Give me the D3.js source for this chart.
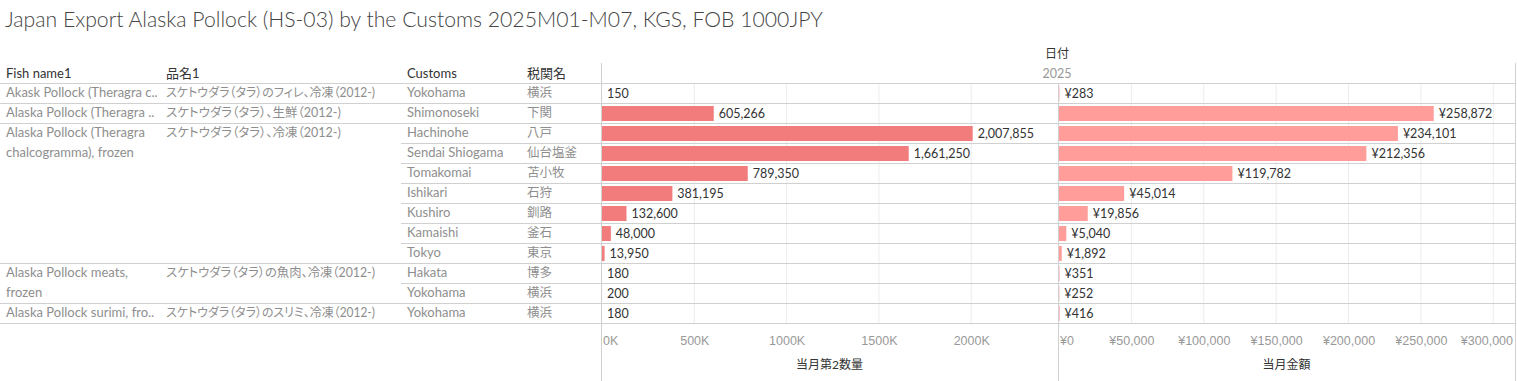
<!DOCTYPE html>
<html><head><meta charset="utf-8">
<script src="https://cdn.jsdelivr.net/npm/d3@7"></script>
<style>
body{margin:0;background:#fff;}
svg{font-family:Lato,"Noto Sans CJK JP","Noto Sans",sans-serif;font-feature-settings:"palt";}
</style></head>
<body><svg id="c" width="1517" height="381"></svg>
<script>
const fishNames = [["Akask Pollock (Theragra c.."],["Alaska Pollock (Theragra .."],["Alaska Pollock (Theragra","chalcogramma), frozen"],["Alaska Pollock meats,","frozen"],["Alaska Pollock surimi, fro.."]];
const hinmei = ["スケトウダラ（タラ）のフィレ、冷凍（2012-)","スケトウダラ（タラ）、生鮮（2012-)","スケトウダラ（タラ）、冷凍（2012-)","スケトウダラ（タラ）の魚肉、冷凍（2012-)","スケトウダラ（タラ）のスリミ、冷凍（2012-)"];
const groupSizes = [1,1,7,2,1];
const customs = ["Yokohama","Shimonoseki","Hachinohe","Sendai Shiogama","Tomakomai","Ishikari","Kushiro","Kamaishi","Tokyo","Hakata","Yokohama","Yokohama"];
const zeikan = ["横浜","下関","八戸","仙台塩釜","苫小牧","石狩","釧路","釜石","東京","博多","横浜","横浜"];
const quantity = [150,605266,2007855,1661250,789350,381195,132600,48000,13950,180,200,180];
const amount = [283,258872,234101,212356,119782,45014,19856,5040,1892,351,252,416];
const qtyTicks = [0,500000,1000000,1500000,2000000];
const amtTicks = [0,50000,100000,150000,200000,250000,300000];

const svg = d3.select("#c");
const rowH = 20, top0 = 83, n = customs.length;
const bottom = top0 + rowH*n;
const p1 = [601,1058], p2 = [1058,1515];
const x1 = d3.scaleLinear().domain([0,2470000]).range([602,1058]);
const x2 = d3.scaleLinear().domain([0,315000]).range([1059,1515]);
const y = d3.scaleBand().domain(d3.range(n)).range([top0,bottom]);
const rowFill = "#8e8e8e";

svg.append("text").attr("x",5).attr("y",27).attr("font-size",21.2).attr("font-weight",300).attr("fill","#444")
  .text("Japan Export Alaska Pollock (HS-03) by the Customs 2025M01-M07, KGS, FOB 1000JPY");

svg.append("text").attr("x",1057).attr("y",58).attr("text-anchor","middle").attr("font-size",12).attr("fill","#333").text("日付");
svg.append("text").attr("x",1057).attr("y",78).attr("text-anchor","middle").attr("font-size",12.5).attr("fill","#999").text("2025");

const headers = [["Fish name1",6],["品名1",166],["Customs",407],["税関名",527]];
svg.selectAll(".hd").data(headers).join("text").attr("x",d=>d[1]).attr("y",78).attr("font-size",13).attr("fill","#333").text(d=>d[0]);

// gridlines
const g = svg.append("g");
g.selectAll(".g1").data(qtyTicks.slice(1)).join("line").attr("x1",d=>x1(d)).attr("x2",d=>x1(d)).attr("y1",top0).attr("y2",bottom).attr("stroke","#ececec");
g.selectAll(".g2").data(amtTicks.slice(1)).join("line").attr("x1",d=>x2(d)).attr("x2",d=>x2(d)).attr("y1",top0).attr("y2",bottom).attr("stroke","#ececec");

// row lines
svg.selectAll(".rl").data(d3.range(n)).join("line").attr("x1",401).attr("x2",1515)
  .attr("y1",d=>y(d)+rowH+0.5).attr("y2",d=>y(d)+rowH+0.5).attr("stroke","#d0d0d0");
// group lines
let starts=[0]; groupSizes.forEach((s,i)=>starts.push(starts[i]+s));
svg.selectAll(".gl").data(starts).join("line").attr("x1",0).attr("x2",1515)
  .attr("y1",d=>top0+d*rowH+0.5).attr("y2",d=>top0+d*rowH+0.5).attr("stroke","#d0d0d0");

// vertical borders
[[601,63],[1058,83],[1515,63]].forEach(([x,yy])=>svg.append("line").attr("x1",x+0.5).attr("x2",x+0.5).attr("y1",yy).attr("y2",381).attr("stroke","#d0d0d0"));

// group labels
function fitText(sel, maxW){
  sel.each(function(){ if(this.getComputedTextLength()>maxW) d3.select(this).attr("textLength",maxW).attr("lengthAdjust","spacingAndGlyphs"); });
}
fishNames.forEach((lines,i)=>{
  const t = top0+starts[i]*rowH;
  lines.forEach((l,j)=>svg.append("text").attr("x",6).attr("y",t+14+j*20).attr("font-size",13).attr("fill",rowFill).text(l).call(fitText,153));
  svg.append("text").attr("x",166).attr("y",t+14).attr("font-size",12.5).attr("fill",rowFill).text(hinmei[i]).call(fitText,209);
});
svg.selectAll(".cu").data(customs).join("text").attr("x",407).attr("y",(d,i)=>y(i)+14).attr("font-size",13).attr("fill",rowFill).text(d=>d);
svg.selectAll(".zk").data(zeikan).join("text").attr("x",527).attr("y",(d,i)=>y(i)+14).attr("font-size",12.5).attr("fill",rowFill).text(d=>d);

// bars
const fmt = d3.format(",");
svg.selectAll(".b1").data(quantity).join("rect").attr("x",x1(0)).attr("y",(d,i)=>y(i)+3).attr("height",15)
  .attr("width",d=>x1(d)-x1(0)).attr("fill","#F27C7B");
svg.selectAll(".l1").data(quantity).join("text").attr("x",d=>x1(d)+5).attr("y",(d,i)=>y(i)+15).attr("font-size",12.5).attr("fill","#333").text(d=>fmt(d));
svg.selectAll(".b2").data(amount).join("rect").attr("x",x2(0)).attr("y",(d,i)=>y(i)+3).attr("height",15)
  .attr("width",d=>x2(d)-x2(0)).attr("fill","#FF9D9A");
svg.selectAll(".l2").data(amount).join("text").attr("x",d=>x2(d)+5).attr("y",(d,i)=>y(i)+15).attr("font-size",12.5).attr("fill","#333").text(d=>"¥"+fmt(d));

// axes
function drawAxis(scale, ticks, f, range){
  const ax = svg.append("g").attr("transform",`translate(0,${bottom})`)
    .call(d3.axisBottom(scale).tickValues(ticks).tickFormat(f).tickSize(0).tickPadding(13));
  ax.select(".domain").remove();
  ax.selectAll("text").attr("font-size",12.5).attr("fill","#999").attr("font-family",null).each(function(){
    const el=d3.select(this); const w=this.getComputedTextLength();
    const tr=d3.select(this.parentNode); const cx=+tr.attr("transform").match(/translate\(([-\d.]+)/)[1];
    let dx=0; if(cx-w/2<range[0]+2) dx=range[0]+2-(cx-w/2); if(cx+w/2>range[1]-2) dx=range[1]-2-(cx+w/2);
    el.attr("dx",dx);
  });
}
drawAxis(x1, qtyTicks, d=>(d/1000)+"K", p1);
drawAxis(x2, amtTicks, d=>"¥"+fmt(d), p2);
svg.append("text").attr("x",(p1[0]+p1[1])/2).attr("y",369).attr("text-anchor","middle").attr("font-size",12).attr("fill","#333").text("当月第2数量");
svg.append("text").attr("x",(p2[0]+p2[1])/2).attr("y",369).attr("text-anchor","middle").attr("font-size",12).attr("fill","#333").text("当月金額");
</script></body></html>
